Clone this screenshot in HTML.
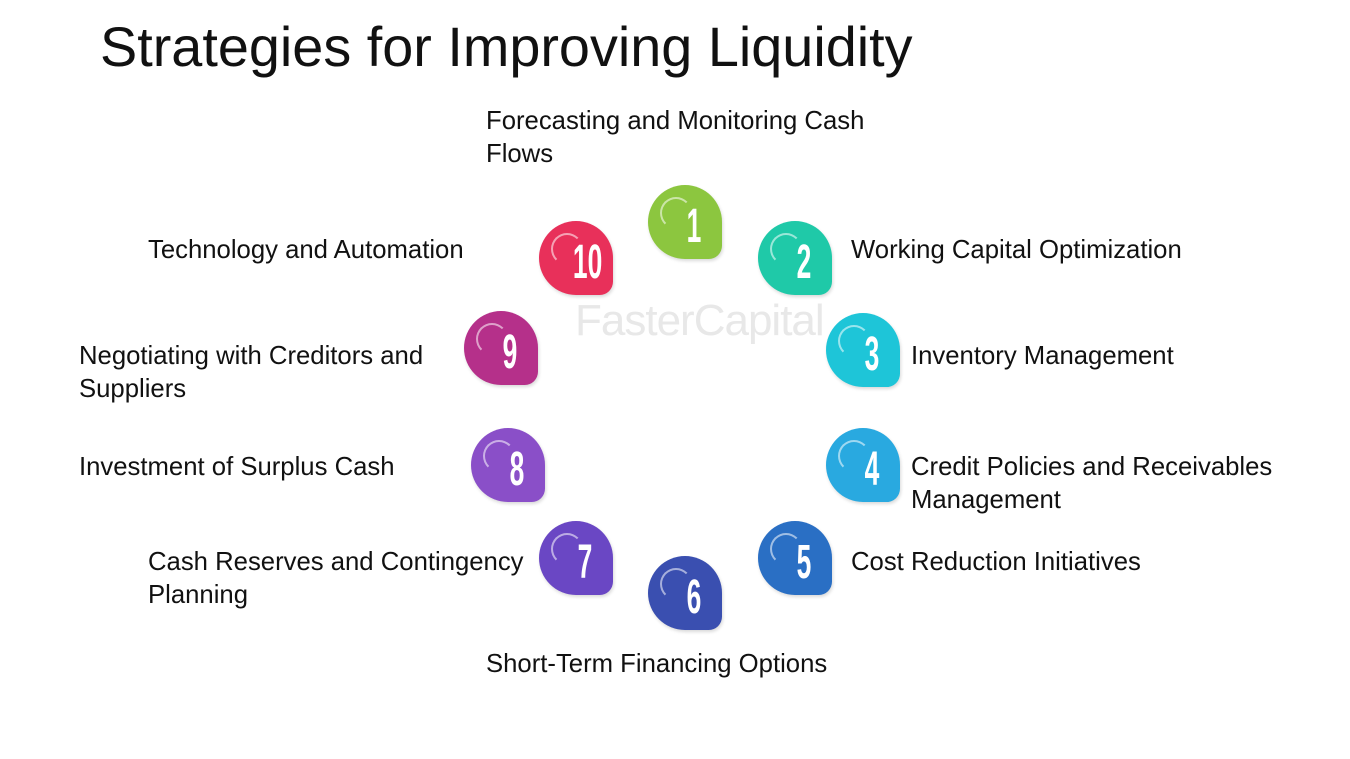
<!DOCTYPE html>
<html><head><meta charset="utf-8"><style>
body{margin:0;width:1350px;height:759px;background:#fff;position:relative;overflow:hidden;font-family:"Liberation Sans",sans-serif;}
.t{position:absolute;font-size:25.7px;line-height:33px;color:#111;}
h1{position:absolute;left:100px;top:14px;margin:0;font-weight:normal;font-size:55.8px;color:#111;}
.b{position:absolute;width:74px;height:74px;border-radius:50% 50% 18% 50%;box-shadow:1px 2px 3px rgba(0,0,0,.15);}
.b::before{content:"";position:absolute;left:12px;top:12px;width:28px;height:28px;border:2px solid rgba(255,255,255,.55);border-radius:50%;border-right-color:transparent;border-bottom-color:transparent;}
.b span{position:absolute;left:24px;top:14px;width:44px;text-align:center;color:#fff;font-size:48px;font-weight:bold;transform:scaleX(.55);font-family:"Liberation Sans Narrow","Liberation Sans",sans-serif;}
.wm{position:absolute;left:575px;top:296px;font-size:44px;color:#e8e8e8;letter-spacing:-1px;}
</style></head><body>
<h1>Strategies for Improving Liquidity</h1>
<div class="wm">FasterCapital</div>
<div class="b" style="left:648px;top:185px;background:#8cc63f"><span>1</span></div>
<div class="b" style="left:758px;top:221px;background:#1fc9a8"><span>2</span></div>
<div class="b" style="left:826px;top:313px;background:#1ec5d8"><span>3</span></div>
<div class="b" style="left:826px;top:428px;background:#29a9e0"><span>4</span></div>
<div class="b" style="left:758px;top:521px;background:#2a6fc4"><span>5</span></div>
<div class="b" style="left:648px;top:556px;background:#3a4fb0"><span>6</span></div>
<div class="b" style="left:539px;top:521px;background:#6a47c4"><span>7</span></div>
<div class="b" style="left:471px;top:428px;background:#8a4fc8"><span>8</span></div>
<div class="b" style="left:464px;top:311px;background:#b5308a"><span>9</span></div>
<div class="b" style="left:539px;top:221px;background:#e8305a"><span>10</span></div>
<div class="t" style="left:486px;top:105px">Forecasting and Monitoring Cash<br>Flows</div>
<div class="t" style="left:851px;top:234px">Working Capital Optimization</div>
<div class="t" style="left:911px;top:340px">Inventory Management</div>
<div class="t" style="left:911px;top:451px">Credit Policies and Receivables<br>Management</div>
<div class="t" style="left:851px;top:546px">Cost Reduction Initiatives</div>
<div class="t" style="left:486px;top:648px">Short-Term Financing Options</div>
<div class="t" style="left:148px;top:546px">Cash Reserves and Contingency<br>Planning</div>
<div class="t" style="left:79px;top:451px">Investment of Surplus Cash</div>
<div class="t" style="left:79px;top:340px">Negotiating with Creditors and<br>Suppliers</div>
<div class="t" style="left:148px;top:234px">Technology and Automation</div>
</body></html>
